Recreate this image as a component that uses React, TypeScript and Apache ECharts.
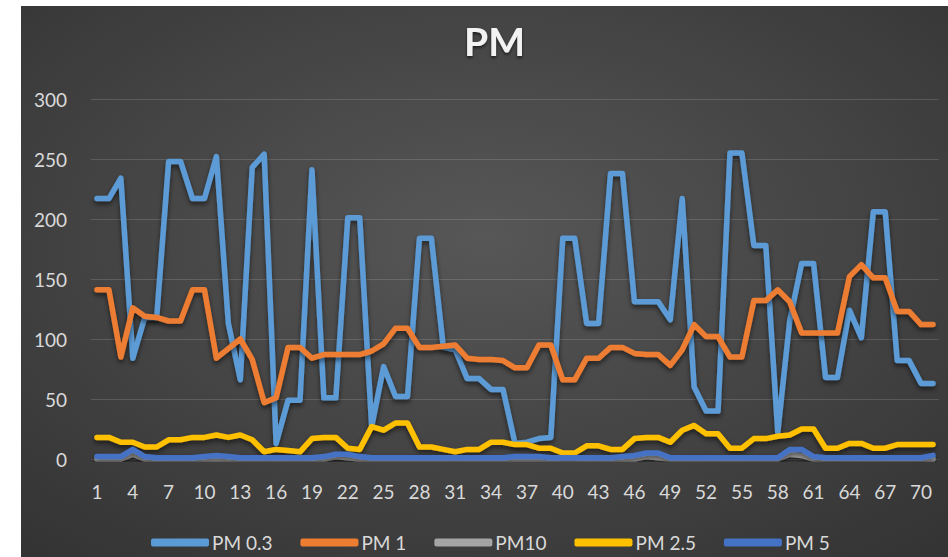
import React, { useEffect, useRef } from "react";
import * as echarts from "echarts";

const categories: string[] = Array.from({ length: 71 }, (_, i) => String(i + 1));

const pm03 = [
  217, 217, 234, 84, 118, 118, 248, 248, 217, 217,
  252, 113, 66, 243, 254, 13, 49, 49, 241, 51,
  51, 201, 201, 27, 77, 52, 52, 184, 184, 93,
  91, 67, 67, 58, 58, 13, 14, 17, 18, 184,
  184, 113, 113, 238, 238, 131, 131, 131, 116, 217,
  60, 40, 40, 255, 255, 178, 178, 22, 115, 163,
  163, 68, 68, 124, 101, 206, 206, 82, 82, 63,
  63,
];

const pm1 = [
  141, 141, 85, 126, 119, 118, 115, 115, 141, 141,
  84, 92, 100, 83, 47, 51, 93, 93, 84, 87,
  87, 87, 87, 90, 96, 109, 109, 93, 93, 94,
  95, 84, 83, 83, 82, 76, 76, 95, 95, 66,
  66, 84, 84, 93, 93, 88, 87, 87, 78, 91,
  112, 102, 102, 85, 85, 132, 132, 141, 131, 105,
  105, 105, 105, 152, 162, 151, 151, 123, 123, 112,
  112,
];

const pm10 = [
  0, 0, 0, 4, 0, 0, 0, 0, 0, 0,
  0, 0, 0, 0, 0, 0, 0, 0, 0, 0,
  2, 1, 0, 0, 0, 0, 0, 0, 0, 0,
  0, 0, 0, 0, 0, 0, 0, 0, 0, 0,
  0, 0, 0, 0, 0, 0, 2, 1, 0, 0,
  0, 0, 0, 0, 0, 0, 0, 0, 4, 3,
  0, 0, 0, 0, 0, 0, 0, 0, 0, 0,
  0,
];

const pm25 = [
  18, 18, 14, 14, 10, 10, 16, 16, 18, 18,
  20, 18, 20, 16, 6, 8, 7, 6, 17, 18,
  18, 9, 8, 27, 24, 30, 30, 10, 10, 8,
  6, 8, 8, 14, 14, 12, 12, 9, 9, 5,
  5, 11, 11, 8, 8, 17, 18, 18, 14, 24,
  28, 21, 21, 9, 9, 17, 17, 19, 20, 25,
  25, 9, 9, 13, 13, 9, 9, 12, 12, 12,
  12,
];

const pm5 = [
  2, 2, 2, 8, 2, 1, 1, 1, 1, 2,
  3, 2, 1, 1, 1, 1, 1, 1, 1, 2,
  4, 4, 2, 1, 1, 1, 1, 1, 1, 1,
  1, 1, 1, 1, 1, 2, 2, 2, 1, 1,
  1, 1, 1, 1, 2, 3, 5, 5, 1, 1,
  1, 1, 1, 1, 1, 1, 1, 1, 8, 8,
  2, 1, 1, 1, 1, 1, 1, 1, 1, 1,
  3,
];

const seriesNames = ["PM 0.3", "PM 1", "PM10", "PM 2.5", "PM 5"];
const seriesColors = ["#5B9BD5", "#ED7D31", "#A5A5A5", "#FFC000", "#4472C4"];
const seriesData = [pm03, pm1, pm10, pm25, pm5];

const FONT = "Lato, 'Open Sans', sans-serif";

export default function App() {
  const ref = useRef<HTMLDivElement>(null);

  useEffect(() => {
    document.body.style.margin = "0";
    if (!ref.current) return;
    const chart = echarts.init(ref.current, null, { renderer: "svg" });
    chart.setOption({
      animation: false,
      backgroundColor: "#ffffff",
      graphic: [
        {
          type: "rect",
          z: -10,
          silent: true,
          shape: { x: 21, y: 6, width: 927, height: 551 },
          style: {
            fill: {
              type: "radial",
              x: 0.5,
              y: 0.42,
              r: 0.95,
              colorStops: [
                { offset: 0, color: "#575757" },
                { offset: 1, color: "#2a2a2a" },
              ],
            },
          },
        },
      ],
      title: {
        text: "PM",
        left: 459,
        top: 16,
        textStyle: {
          color: "#f2f2f2",
          fontSize: 39,
          fontWeight: "bold",
          fontFamily: FONT,
          textShadowColor: "rgba(0,0,0,0.6)",
          textShadowBlur: 3,
          textShadowOffsetY: 2,
        },
      },
      legend: {
        data: seriesNames,
        left: 146,
        top: 528,
        icon: "roundRect",
        itemWidth: 58,
        itemHeight: 8,
        itemGap: 28,
        textStyle: { color: "#d9d9d9", fontSize: 19, fontFamily: FONT, padding: [0, 0, 0, -2] },
      },
      grid: { left: 91, right: 9, top: 99, bottom: 98, containLabel: false },
      xAxis: {
        type: "category",
        data: categories,
        boundaryGap: true,
        axisLine: { show: false },
        axisTick: { show: false },
        axisLabel: {
          interval: 2,
          color: "#d9d9d9",
          fontSize: 19,
          fontFamily: FONT,
          margin: 23,
        },
      },
      yAxis: {
        type: "value",
        min: 0,
        max: 300,
        interval: 50,
        axisLine: { show: false },
        axisTick: { show: false },
        splitLine: { lineStyle: { color: "rgba(255,255,255,0.14)", width: 1 } },
        axisLabel: { color: "#d9d9d9", fontSize: 19, fontFamily: FONT, margin: 24 },
      },
      series: seriesNames.map((name, i) => ({
        name,
        type: "line",
        data: seriesData[i],
        showSymbol: false,
        symbol: "none",
        color: seriesColors[i],
        lineStyle: {
          color: seriesColors[i],
          width: 5.5,
          cap: "round",
          join: "round",
          shadowColor: "rgba(0,0,0,0.55)",
          shadowBlur: 5,
          shadowOffsetY: 3,
        },
      })),
    });
    return () => chart.dispose();
  }, []);

  return <div ref={ref} style={{ width: 948, height: 557 }} />;
}
